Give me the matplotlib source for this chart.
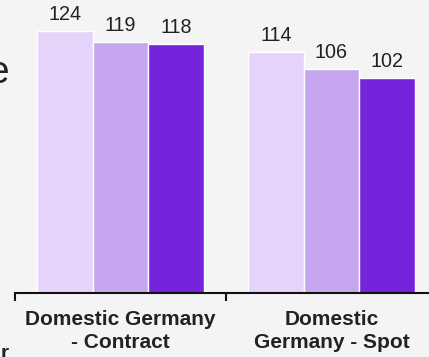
import numpy as np
import matplotlib
matplotlib.use("Agg")
import matplotlib.pyplot as plt

plt.rcParams['font.family'] = ['Liberation Sans', 'DejaVu Sans']

categories = ["Domestic Germany\n- Contract", "Domestic\nGermany - Spot"]
series_a = [124, 114]
series_b = [119, 106]
series_c = [118, 102]
colors = ["#e6d3f9", "#c6a6ef", "#7623dc"]

W, H, DPI = 429, 357, 100
fig = plt.figure(figsize=(W / DPI, H / DPI), dpi=DPI)
bg = "#f4f4f4"
fig.patch.set_facecolor(bg)

# axes: left edge at x=15px, baseline at y=293px, right edge runs past the figure
left_px, base_px, unit_w = 15, 293, 211
ax = fig.add_axes([left_px / W, (H - base_px) / H, 2 * unit_w / W, base_px / H])
ax.set_facecolor(bg)

x = np.arange(len(categories))
bw = 0.263
for i, (vals, col) in enumerate(zip([series_a, series_b, series_c], colors)):
    pos = x + (i - 1) * bw
    bars = ax.bar(pos, vals, width=bw, color=col, edgecolor="white", linewidth=1.0, zorder=2)
    for b, v in zip(bars, vals):
        ax.annotate(f"{v}", (b.get_x() + b.get_width() / 2, v), xytext=(0, 8),
                    textcoords="offset points", ha="center", va="baseline",
                    fontsize=14.2, color="#222222")

ax.set_xlim(-0.5, 1.5)
ax.set_ylim(0, base_px / 2.11)

for s in ["top", "right", "left"]:
    ax.spines[s].set_visible(False)
ax.spines["bottom"].set_color("#111111")
ax.spines["bottom"].set_linewidth(1.5)
ax.set_yticks([])

ax.set_xticks(x)
ax.set_xticklabels(categories, fontsize=15, fontweight="bold", color="#222222", linespacing=1.3)
ax.tick_params(axis="x", which="major", length=0, pad=12)
ax.set_xticks([-0.5, 0.5, 1.5], minor=True)
ax.tick_params(axis="x", which="minor", length=5.5, width=1.5, color="#111111", direction="out")

# neighbouring text cut off at the left edge
fig.text(9 / W, (H - 83) / H, "e", ha="right", va="baseline", fontsize=28, color="#222222")
fig.text(8.5 / W, (H - 359) / H, "r", ha="right", va="baseline", fontsize=15,
         fontweight="bold", color="#222222")

fig.savefig("out.png", dpi=DPI, facecolor=bg)
